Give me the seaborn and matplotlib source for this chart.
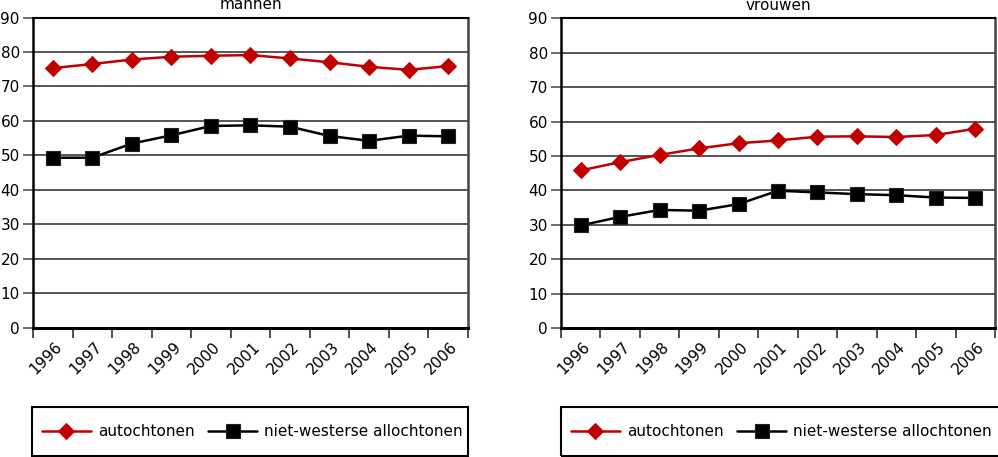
import numpy as np
import pandas as pd
import matplotlib
matplotlib.use("Agg")
import matplotlib.pyplot as plt
import seaborn as sns
from matplotlib.ticker import FixedLocator, NullFormatter
from matplotlib.transforms import ScaledTranslation
from matplotlib.patches import Rectangle

years = ["1996", "1997", "1998", "1999", "2000", "2001", "2002", "2003", "2004", "2005", "2006"]
mannen_autochtonen = [75.3, 76.5, 77.8, 78.6, 78.9, 79.1, 78.1, 77.0, 75.7, 74.8, 75.9]
mannen_nietwesters = [49.3, 49.3, 53.4, 55.8, 58.5, 58.7, 58.3, 55.6, 54.2, 55.7, 55.5]
vrouwen_autochtonen = [45.8, 48.2, 50.3, 52.2, 53.7, 54.5, 55.6, 55.7, 55.5, 56.1, 57.9]
vrouwen_nietwesters = [29.8, 32.3, 34.3, 34.1, 36.0, 39.9, 39.4, 38.9, 38.6, 37.9, 37.8]
series_names = ["autochtonen", "niet-westerse allochtonen"]
panel_titles = ["mannen", "vrouwen"]
y_ticks = [0, 10, 20, 30, 40, 50, 60, 70, 80, 90]

sns.set_theme(style="white")
plt.rcParams["font.family"] = ["DejaVu Sans"]
plt.rcParams["text.color"] = "black"
plt.rcParams["axes.titlecolor"] = "black"
plt.rcParams["xtick.labelcolor"] = "black"
plt.rcParams["ytick.labelcolor"] = "black"

fig = plt.figure(figsize=(9.98, 4.57), dpi=100)
W, H = 998.0, 457.0
axes_px = [(33, 468, 17.5, 327.5), (561, 995, 18.3, 328)]
box_px = [(32, 468, 407, 456), (561, 1004, 407, 456)]

RED = "#C00000"
FS = 11
panels = [(mannen_autochtonen, mannen_nietwesters), (vrouwen_autochtonen, vrouwen_nietwesters)]
pos = np.arange(len(years))

for i, (auto, niet) in enumerate(panels):
    x0, x1, y0, y1 = axes_px[i]
    ax = fig.add_axes([x0 / W, 1 - y1 / H, (x1 - x0) / W, (y1 - y0) / H])
    df = pd.DataFrame({"pos": pos, "auto": auto, "niet": niet})
    sns.lineplot(data=df, x="pos", y="auto", ax=ax, color=RED, marker="D",
                 markersize=8, markeredgecolor=RED, linewidth=1.8,
                 label=series_names[0], zorder=3)
    sns.lineplot(data=df, x="pos", y="niet", ax=ax, color="black", marker="s",
                 markersize=9.5, markeredgecolor="#222222", markeredgewidth=0.8,
                 linewidth=1.8, label=series_names[1], zorder=3)
    ax.set_xlim(-0.5, len(years) - 0.5)
    ax.set_ylim(0, 90)
    ax.set_xlabel("")
    ax.set_ylabel("")
    ax.set_yticks(y_ticks)
    ax.set_yticklabels([str(v) for v in y_ticks], fontsize=FS, color="black")
    ax.yaxis.grid(True, color="#3a3a3a", linewidth=1.2)
    ax.xaxis.grid(False)
    ax.set_axisbelow(True)
    # category labels at centres, tick marks at boundaries
    ax.xaxis.set_major_locator(FixedLocator(pos))
    ax.set_xticklabels(years, fontsize=FS, rotation=45, ha="right",
                       va="center", rotation_mode="anchor", color="black")
    ax.xaxis.set_minor_locator(FixedLocator(np.arange(len(years) + 1) - 0.5))
    ax.xaxis.set_minor_formatter(NullFormatter())
    ax.tick_params(axis="x", which="major", length=0, pad=12)
    ax.tick_params(axis="x", which="minor", length=7, width=1.2, color="#333333", bottom=True)
    ax.tick_params(axis="y", which="major", length=7.5, width=1.2, color="#555555", pad=2, left=True)
    for lab in ax.get_xticklabels():
        lab.set_transform(lab.get_transform() + ScaledTranslation(7 / 100, 0, fig.dpi_scale_trans))
    for side in ["left", "bottom", "top", "right"]:
        ax.spines[side].set_visible(True)
        ax.spines[side].set_color("black")
    ax.spines["left"].set_linewidth(1.8)
    ax.spines["bottom"].set_linewidth(2.2)
    ax.spines["top"].set_linewidth(1.5)
    ax.spines["right"].set_linewidth(1.8)
    ax.spines["right"].set_color("#444444")
    ax.set_title(panel_titles[i], fontsize=FS, pad=6, color="black")
    handles, labels = ax.get_legend_handles_labels()
    ax.get_legend().remove()

    bx0, bx1, by0, by1 = box_px[i]
    fig.patches.append(Rectangle((bx0 / W, 1 - by1 / H), (bx1 - bx0) / W, (by1 - by0) / H,
                                 transform=fig.transFigure, fill=False,
                                 edgecolor="black", linewidth=1.5, zorder=5))
    leg = fig.legend(handles, labels, loc="center left",
                     bbox_to_anchor=((bx0 + 10) / W, 1 - ((by0 + by1) / 2 + 0.5) / H),
                     ncol=2, fontsize=FS, frameon=False,
                     handlelength=3.2, handletextpad=0.45, columnspacing=0.9,
                     borderaxespad=0, borderpad=0)
    for t in leg.get_texts():
        t.set_color("black")

fig.savefig("out.png", dpi=100)
